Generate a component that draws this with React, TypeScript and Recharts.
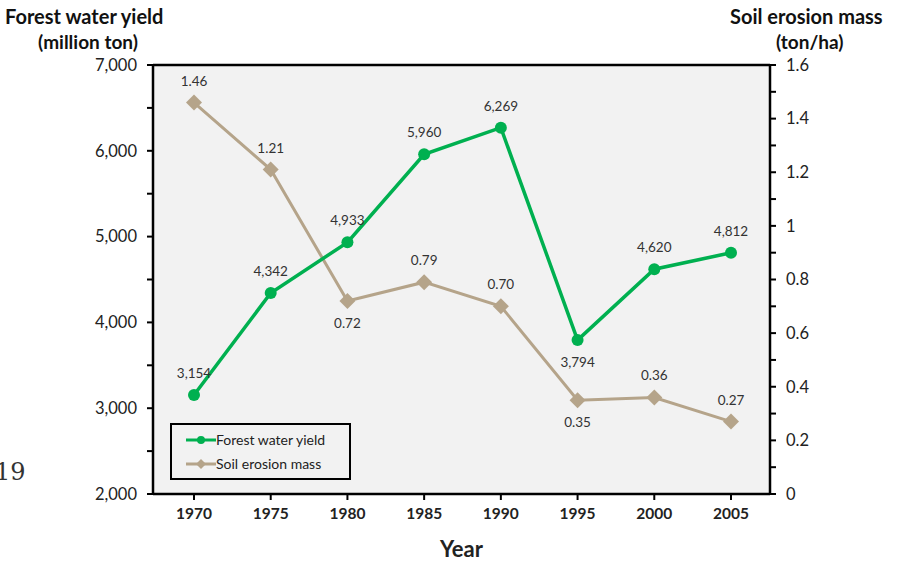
import {
  LineChart,
  Line,
  XAxis,
  YAxis,
  CartesianGrid,
  ReferenceLine,
} from "recharts";

const years = ["1970", "1975", "1980", "1985", "1990", "1995", "2000", "2005"];
const waterYield = [3154, 4342, 4933, 5960, 6269, 3794, 4620, 4812];
const soilErosion = [1.46, 1.21, 0.72, 0.79, 0.7, 0.35, 0.36, 0.27];

const leftTicks = [2000, 2500, 3000, 3500, 4000, 4500, 5000, 5500, 6000, 6500, 7000];
const rightTicks = [0, 0.1, 0.2, 0.3, 0.4, 0.5, 0.6, 0.7, 0.8, 0.9, 1, 1.1, 1.2, 1.3, 1.4, 1.5, 1.6];

// where each data label sits relative to its point
const waterLabelSide = ["up", "up", "up", "up", "up", "down", "up", "up"];
const soilLabelSide = ["up", "up", "down", "up", "up", "down", "up", "up"];

const GREEN = "#00b050";
const TAN = "#b5a48a";
const FONT = "Lato, 'Open Sans', sans-serif";

const data = years.map((year, i) => ({
  year,
  water: waterYield[i],
  soil: soilErosion[i],
}));

function makeLabel(sides: string[], fmt: (v: number) => string) {
  return (props: any) => {
    const { x, y, value, index } = props;
    const down = sides[index] === "down";
    return (
      <text
        x={x}
        y={down ? y + 27 : y - 17}
        textAnchor="middle"
        fontSize={13.5}
        fill="#333"
        fontFamily={FONT}
      >
        {fmt(value)}
      </text>
    );
  };
}

const Diamond = (props: any) => {
  const { cx, cy } = props;
  if (cx == null || cy == null) return null;
  const r = 8;
  return (
    <polygon
      points={`${cx},${cy - r} ${cx + r},${cy} ${cx},${cy + r} ${cx - r},${cy}`}
      fill={TAN}
    />
  );
};

const LegendBox = () => (
  <div
    style={{
      position: "absolute",
      left: 170,
      top: 423,
      border: "2px solid #000",
      width: 163,
      height: 53,
      fontFamily: FONT,
      fontSize: 14,
      color: "#222",
      background: "#f2f2f2",
      display: "flex",
      flexDirection: "column",
      justifyContent: "center",
      gap: 8,
      paddingLeft: 14,
      boxSizing: "content-box",
    }}
  >
    <div style={{ display: "flex", alignItems: "center", height: 16 }}>
      <svg width={30} height={12}>
        <line x1={0} y1={6} x2={30} y2={6} stroke={GREEN} strokeWidth={3} />
        <circle cx={15} cy={6} r={4} fill={GREEN} />
      </svg>
      <span>Forest water yield</span>
    </div>
    <div style={{ display: "flex", alignItems: "center", height: 16 }}>
      <svg width={30} height={12}>
        <line x1={0} y1={6} x2={30} y2={6} stroke={TAN} strokeWidth={3} />
        <polygon points="15,1 20,6 15,11 10,6" fill={TAN} />
      </svg>
      <span>Soil erosion mass</span>
    </div>
  </div>
);

const tickStyle = { fontSize: 16.5, fill: "#222", fontFamily: FONT };

export default function App() {
  return (
    <div
      style={{
        position: "absolute",
        left: 0,
        top: 0,
        width: 900,
        height: 562,
        background: "#fff",
        fontFamily: FONT,
        overflow: "hidden",
      }}
    >
      <div style={{ position: "absolute", left: 5, top: 4, fontSize: 20, fontWeight: 700, color: "#111" }}>
        Forest water yield
      </div>
      <div style={{ position: "absolute", left: 38, top: 30, fontSize: 19, fontWeight: 700, color: "#111" }}>
        (million ton)
      </div>
      <div style={{ position: "absolute", left: 730, top: 4, fontSize: 20, fontWeight: 700, color: "#111" }}>
        Soil erosion mass
      </div>
      <div style={{ position: "absolute", left: 776, top: 30, fontSize: 19, fontWeight: 700, color: "#111" }}>
        (ton/ha)
      </div>
      <div
        style={{
          position: "absolute",
          left: -5,
          top: 458,
          fontSize: 24,
          fontFamily: "'DejaVu Serif', serif",
          color: "#333",
        }}
      >
        19
      </div>
      <div style={{ position: "absolute", left: 440, top: 535, fontSize: 22, fontWeight: 700, color: "#222" }}>
        Year
      </div>
      <LineChart
        width={900}
        height={562}
        data={data}
        margin={{ top: 65, right: 70, bottom: 38, left: 93 }}
      >
        <CartesianGrid horizontal={false} vertical={false} fill="#f2f2f2" />
        <XAxis
          dataKey="year"
          padding={{ left: 41, right: 39 }}
          tick={{ ...tickStyle, fontSize: 15.5, fontWeight: 700 }}
          axisLine={{ stroke: "#000", strokeWidth: 2.5 }}
          tickLine={{ stroke: "#000", strokeWidth: 2 }}
          tickSize={6}
          tickMargin={8}
          height={30}
        />
        <YAxis
          yAxisId="left"
          domain={[2000, 7000]}
          ticks={leftTicks}
          interval={0}
          tickFormatter={(v: number) => (v % 1000 === 0 ? v.toLocaleString("en-US") : "")}
          tick={tickStyle}
          axisLine={{ stroke: "#000", strokeWidth: 2.5 }}
          tickLine={{ stroke: "#000", strokeWidth: 2 }}
          tickSize={6}
          tickMargin={10}
          width={60}
        />
        <YAxis
          yAxisId="right"
          orientation="right"
          domain={[0, 1.6]}
          ticks={rightTicks}
          interval={0}
          tickFormatter={(v: number) => {
            const k = Math.round(v * 10);
            return k % 2 === 0 ? String(Math.round(v * 10) / 10) : "";
          }}
          tick={tickStyle}
          axisLine={{ stroke: "#000", strokeWidth: 2.5 }}
          tickLine={{ stroke: "#000", strokeWidth: 2 }}
          tickSize={6}
          tickMargin={10}
          width={60}
        />
        <ReferenceLine yAxisId="left" y={7000} stroke="#000" strokeWidth={2.5} />
        <Line
          yAxisId="right"
          dataKey="soil"
          stroke={TAN}
          strokeWidth={3}
          dot={<Diamond />}
          activeDot={false}
          isAnimationActive={false}
          label={makeLabel(soilLabelSide, (v) => v.toFixed(2))}
        />
        <Line
          yAxisId="left"
          dataKey="water"
          stroke={GREEN}
          strokeWidth={3.5}
          dot={{ r: 6, fill: GREEN, stroke: GREEN, strokeWidth: 0 }}
          activeDot={false}
          isAnimationActive={false}
          label={makeLabel(waterLabelSide, (v) => v.toLocaleString("en-US"))}
        />
      </LineChart>
      <LegendBox />
    </div>
  );
}
